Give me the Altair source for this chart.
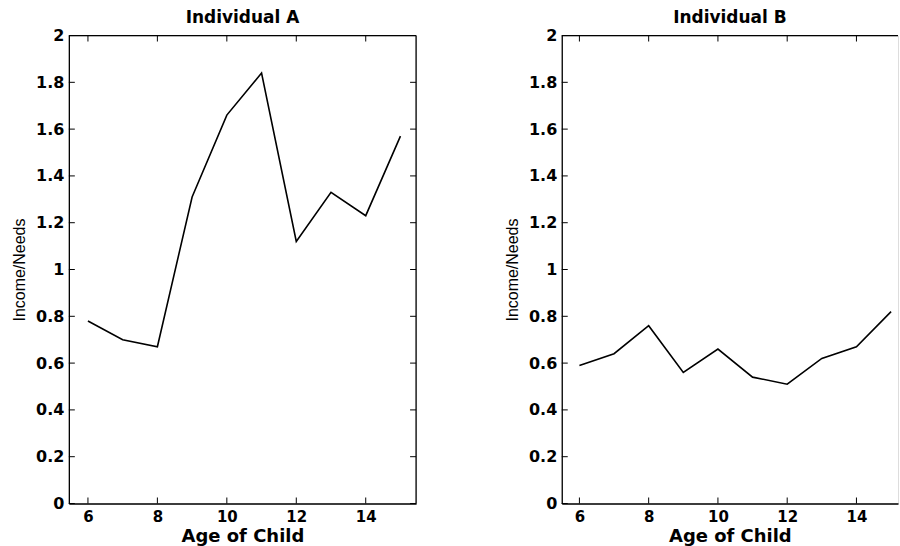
import altair as alt
import pandas as pd

# Income-to-needs ratio by age of child for two individuals
ages = [6, 7, 8, 9, 10, 11, 12, 13, 14, 15]
income_a = [0.78, 0.70, 0.67, 1.31, 1.66, 1.84, 1.12, 1.33, 1.23, 1.57]
income_b = [0.59, 0.64, 0.76, 0.56, 0.66, 0.54, 0.51, 0.62, 0.67, 0.82]

x_ticks = [6, 8, 10, 12, 14]
y_ticks = [0, 0.2, 0.4, 0.6, 0.8, 1.0, 1.2, 1.4, 1.6, 1.8, 2.0]

TICK = 6
LINE_W = 1.3


def panel(values, title, x_domain, width, height, right_frame):
    df = pd.DataFrame({"age": ages, "ratio": values})
    xs = alt.Scale(domain=x_domain, nice=False, zero=False)
    ys = alt.Scale(domain=[0, 2], nice=False, zero=False)

    x_axis = alt.Axis(
        values=x_ticks, title="Age of Child", ticks=False, grid=False,
        domainColor="black", domainWidth=LINE_W,
        labelFont="DejaVu Sans", labelFontWeight="bold", labelFontSize=15,
        labelColor="black", labelPadding=6,
        titleFont="DejaVu Sans", titleFontWeight="bold", titleFontSize=18,
        titleColor="black", titlePadding=3,
    )
    y_axis = alt.Axis(
        values=y_ticks, format="~g", title="Income/Needs", ticks=False, grid=False,
        domainColor="black", domainWidth=LINE_W,
        labelFont="DejaVu Sans", labelFontWeight="bold", labelFontSize=16,
        labelColor="black", labelPadding=5,
        titleFont="Liberation Sans", titleFontWeight="normal", titleFontSize=16,
        titleColor="black", titlePadding=8,
    )

    line = alt.Chart(df).mark_line(color="black", strokeWidth=1.6, clip=True).encode(
        x=alt.X("age:Q", scale=xs, axis=x_axis),
        y=alt.Y("ratio:Q", scale=ys, axis=y_axis),
    )

    ydf = pd.DataFrame({"v": y_ticks})
    xdf = pd.DataFrame({"v": x_ticks})

    # inward tick marks on the frame
    y_left = alt.Chart(ydf).mark_rule(color="black", strokeWidth=1).encode(
        y=alt.Y("v:Q", scale=ys, axis=y_axis), x=alt.value(0), x2=alt.value(TICK))
    x_bottom = alt.Chart(xdf).mark_rule(color="black", strokeWidth=1).encode(
        x=alt.X("v:Q", scale=xs, axis=x_axis), y=alt.value(height), y2=alt.value(height - TICK))
    x_top = alt.Chart(xdf).mark_rule(color="black", strokeWidth=1).encode(
        x=alt.X("v:Q", scale=xs, axis=x_axis), y=alt.value(0), y2=alt.value(TICK))

    # top edge of the frame
    top_edge = alt.Chart(pd.DataFrame({"v": [2]})).mark_rule(
        color="black", strokeWidth=LINE_W).encode(
        y=alt.Y("v:Q", scale=ys, axis=y_axis), x=alt.value(0), x2=alt.value(width))

    layers = [line, y_left, x_bottom, x_top, top_edge]
    if right_frame:
        y_right = alt.Chart(ydf).mark_rule(color="black", strokeWidth=1).encode(
            y=alt.Y("v:Q", scale=ys, axis=y_axis),
            x=alt.value(width - TICK), x2=alt.value(width))
        right_edge = alt.Chart(pd.DataFrame({"v": [x_domain[1]]})).mark_rule(
            color="black", strokeWidth=LINE_W).encode(
            x=alt.X("v:Q", scale=xs, axis=x_axis), y=alt.value(0), y2=alt.value(height))
        layers += [y_right, right_edge]

    return alt.layer(*layers).properties(
        width=width, height=height,
        title=alt.TitleParams(title, font="DejaVu Sans", fontWeight="bold",
                              fontSize=17, color="black", offset=1),
    )


left = panel(income_a, "Individual A", [5.45, 15.45], 348, 469, True)
right = panel(income_b, "Individual B", [5.49, 15.2], 337, 469, False)

chart = alt.hconcat(left, right, spacing=146, bounds="flush").properties(
    padding={"left": 11, "top": 7, "right": 0, "bottom": 0},
).configure_view(strokeWidth=0, stroke="transparent").configure(background="white")

chart.save("out.html", embed_options={"renderer": "svg", "actions": False})
